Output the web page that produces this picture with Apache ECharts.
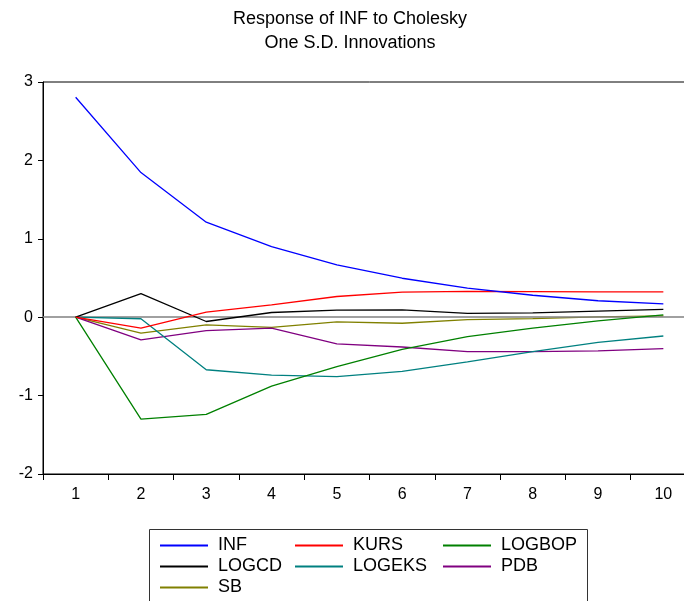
<!DOCTYPE html>
<html><head><meta charset="utf-8">
<script src="https://cdn.jsdelivr.net/npm/echarts@6/dist/echarts.min.js"></script>
<style>html,body{margin:0;padding:0;background:#fff;overflow:hidden}#c{width:700px;height:601px}</style>
</head><body><div id="c"></div>
<script>
var categories = ['1','2','3','4','5','6','7','8','9','10'];
var INF    = [2.806, 1.845, 1.212, 0.90, 0.667, 0.497, 0.37, 0.28, 0.21, 0.17];
var KURS   = [0, -0.14, 0.064, 0.157, 0.264, 0.32, 0.33, 0.327, 0.323, 0.323];
var LOGBOP = [0, -1.30, -1.24, -0.88, -0.63, -0.41, -0.247, -0.14, -0.047, 0.03];
var LOGCD  = [0, 0.30, -0.055, 0.06, 0.089, 0.094, 0.05, 0.055, 0.077, 0.10];
var LOGEKS = [0, -0.02, -0.67, -0.74, -0.757, -0.69, -0.57, -0.44, -0.32, -0.24];
var PDB    = [0, -0.29, -0.17, -0.14, -0.34, -0.38, -0.44, -0.44, -0.43, -0.40];
var SB     = [0, -0.204, -0.098, -0.13, -0.06, -0.077, -0.03, -0.017, 0.004, 0.017];
var yTicks = [-2, -1, 0, 1, 2, 3];

var names = ['INF','KURS','LOGBOP','LOGCD','LOGEKS','PDB','SB'];
var data = {INF:INF,KURS:KURS,LOGBOP:LOGBOP,LOGCD:LOGCD,LOGEKS:LOGEKS,PDB:PDB,SB:SB};
var colors = {INF:'#0000ff',KURS:'#ff0000',LOGBOP:'#008000',LOGCD:'#000000',LOGEKS:'#008080',PDB:'#800080',SB:'#808000'};
var font = 'Arial, "Liberation Sans", sans-serif';

var series = names.map(function(n, i){
  var s = {name:n, type:'line', data:data[n], symbol:'none', color:colors[n],
    lineStyle:{width:1.3, color:colors[n]}, z: 10 - i, animation:false};
  if (i === 0) {
    s.markLine = {silent:true, symbol:'none', label:{show:false},
      lineStyle:{color:'#808080', width:1.6, type:'solid'}, data:[{yAxis:0}]};
  }
  return s;
});

function legendCol(items, left){
  return {data:items, orient:'vertical', left:left, top:535, height:80, padding:0,
    itemWidth:48, itemHeight:2, itemGap:0, icon:'rect', selectedMode:false,
    textStyle:{fontFamily:font, fontSize:18, color:'#000', lineHeight:21, padding:[0,0,0,5]}};
}

var chart = echarts.init(document.getElementById('c'), null, {renderer:'canvas'});
chart.setOption({
  animation:false,
  backgroundColor:'#fff',
  title:{text:'Response of INF to Cholesky\nOne S.D. Innovations', left:345, textAlign:'center', top:2,
    textStyle:{fontFamily:font, fontSize:18, fontWeight:'normal', color:'#000', lineHeight:24}},
  grid:{left:43, right:4, top:82, bottom:127, show:true, borderColor:'#000', borderWidth:1, backgroundColor:'transparent'},
  legend:[legendCol(['INF','LOGCD','SB'],160), legendCol(['KURS','LOGEKS'],295), legendCol(['LOGBOP','PDB'],443)],
  graphic:[{type:'rect', shape:{x:149.5, y:529.5, width:438, height:80}, style:{fill:'none', stroke:'#333', lineWidth:1}, z:-1}],
  xAxis:{type:'category', data:categories, boundaryGap:true,
    axisLine:{onZero:false, lineStyle:{color:'#000', width:1}},
    axisTick:{show:true, inside:false, length:6, lineStyle:{color:'#000'}},
    axisLabel:{fontFamily:font, fontSize:16, color:'#000', margin:13},
    splitLine:{show:false}},
  yAxis:{type:'value', min:-2, max:3, interval:1,
    axisLine:{show:true, lineStyle:{color:'#000', width:1}},
    axisTick:{show:true, length:5, lineStyle:{color:'#000'}},
    axisLabel:{fontFamily:font, fontSize:16, color:'#000', margin:10,
      formatter:function(v){ return yTicks.indexOf(v) >= 0 ? String(v) : ''; }},
    splitLine:{show:false}},
  series:series
});
</script></body></html>
